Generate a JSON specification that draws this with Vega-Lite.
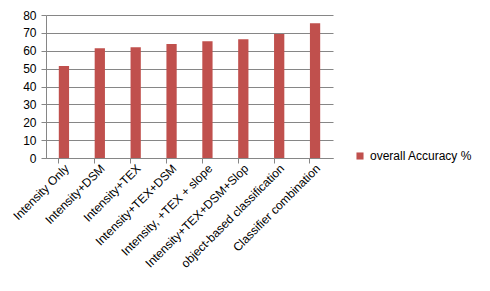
{
  "$schema": "https://vega.github.io/schema/vega-lite/v6.json",
  "width": 287,
  "height": 143,
  "autosize": {"type": "none"},
  "padding": {"left": 46, "top": 15, "right": 157, "bottom": 133},
  "background": "white",
  "config": {
    "font": "Liberation Sans",
    "view": {"stroke": null},
    "axis": {"labelFont": "Liberation Sans", "labelFontSize": 12, "labelColor": "#000000", "domainColor": "#868686", "tickColor": "#868686", "gridColor": "#868686", "titleFontSize": 11}
  },
  "data": {
    "values": [
      {"method": "Intensity Only", "accuracy": 51.4, "series": "overall Accuracy %"},
      {"method": "Intensity+DSM", "accuracy": 61.4, "series": "overall Accuracy %"},
      {"method": "Intensity+TEX", "accuracy": 62.0, "series": "overall Accuracy %"},
      {"method": "Intensity+TEX+DSM", "accuracy": 63.8, "series": "overall Accuracy %"},
      {"method": "Intensity,  +TEX + slope", "accuracy": 65.3, "series": "overall Accuracy %"},
      {"method": "Intensity+TEX+DSM+Slop", "accuracy": 66.5, "series": "overall Accuracy %"},
      {"method": "object-based classification", "accuracy": 69.4, "series": "overall Accuracy %"},
      {"method": "Classifier combination", "accuracy": 75.4, "series": "overall Accuracy %"}
    ]
  },
  "mark": {"type": "bar"},
  "encoding": {
    "x": {
      "field": "method", "type": "nominal", "sort": null,
      "scale": {"paddingInner": 0.714, "paddingOuter": 0.357},
      "axis": {"title": null, "labelAngle": -45, "labelAlign": "right", "labelBaseline": "middle", "bandPosition": 0, "tickSize": 5, "labelPadding": 3, "labelOffset": 3}
    },
    "y": {
      "field": "accuracy", "type": "quantitative",
      "scale": {"domain": [0, 80], "nice": false},
      "axis": {"title": null, "values": [0, 10, 20, 30, 40, 50, 60, 70, 80], "tickSize": 5, "labelPadding": 5, "grid": true, "gridOpacity": 1}
    },
    "color": {
      "field": "series", "type": "nominal",
      "scale": {"range": ["#C0504D"]},
      "legend": {"title": null, "orient": "none", "legendX": 308, "legendY": 135, "symbolType": "square", "symbolSize": 50, "labelFontSize": 12, "labelFont": "Liberation Sans", "labelColor": "#000000", "symbolStrokeWidth": 0, "labelOffset": 4}
    }
  }
}
